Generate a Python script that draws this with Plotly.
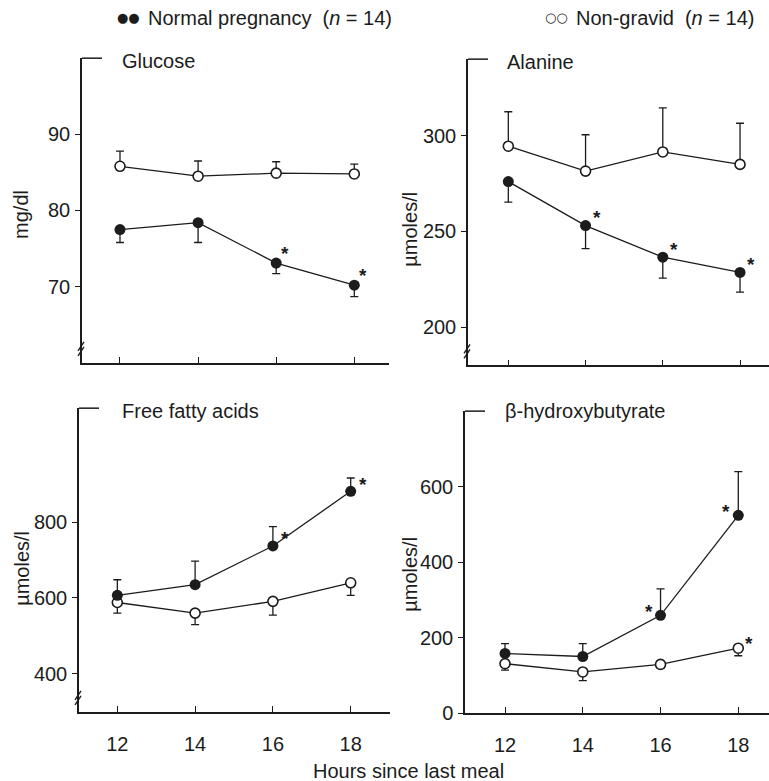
import plotly.graph_objects as go

W, H = 769, 781
FONT = "Liberation Sans, Arial, sans-serif"
INK = "#1c1c1c"

hours = [12, 14, 16, 18]
xtick_labels = ["12", "14", "16", "18"]

# Glucose (mg/dl)
glu_preg = [77.5, 78.4, 73.1, 70.2]
glu_preg_err = [1.7, 2.6, 1.4, 1.5]
glu_ng = [85.8, 84.5, 84.9, 84.8]
glu_ng_err = [2.0, 2.0, 1.5, 1.3]
glu_preg_sig = [False, False, True, True]
glu_ticks = [70, 80, 90]

# Alanine (umoles/l)
ala_preg = [276, 253, 236.5, 228.5]
ala_preg_err = [10.7, 12, 11, 10.3]
ala_ng = [294.5, 281.5, 291.5, 285]
ala_ng_err = [18, 19, 23, 21.5]
ala_preg_sig = [False, True, True, True]
ala_ticks = [200, 250, 300]

# Free fatty acids (umoles/l)
ffa_preg = [607, 635, 737, 881]
ffa_preg_err = [41, 62, 51, 35]
ffa_ng = [588, 560, 591, 640]
ffa_ng_err = [28, 30, 36, 33]
ffa_preg_sig = [False, False, True, True]
ffa_ticks = [400, 600, 800]

# beta-hydroxybutyrate (umoles/l)
bhb_preg = [158, 150, 259, 524]
bhb_preg_err = [26, 34, 70, 116]
bhb_ng = [131, 109, 129, 172]
bhb_ng_err = [17, 23, 10, 20]
bhb_preg_sig = [False, False, True, True]
bhb_ng_sig = [False, False, False, True]
bhb_ticks = [0, 200, 400, 600]

titles = ["Glucose", "Alanine", "Free fatty acids", "\u03b2-hydroxybutyrate"]
ytitles = ["mg/dl", "\u00b5moles/l", "\u00b5moles/l", "\u00b5moles/l"]

def px(x):
    return x / W

def py(y):
    return 1 - y / H

panels = [
    dict(preg=glu_preg, perr=glu_preg_err, pdir="down", ng=glu_ng, nerr=glu_ng_err, ndir="up",
         psig=glu_preg_sig, pshift=(9, 10), nsig=None, nshift=None, ticks=glu_ticks,
         yrange=[60, 100], xdom=[82, 389], ydom=[59, 368], xrange=[11.027, 18.889],
         brk=True, labels=False, title=titles[0], tpos=(120, 62), ytitle=ytitles[0], ytpos=(21, 218)),
    dict(preg=ala_preg, perr=ala_preg_err, pdir="down", ng=ala_ng, nerr=ala_ng_err, ndir="up",
         psig=ala_preg_sig, pshift=(11, 8), nsig=None, nshift=None, ticks=ala_ticks,
         yrange=[180, 340], xdom=[468, 769], ydom=[60, 370.5], xrange=[10.956, 18.75],
         brk=True, labels=False, title=titles[1], tpos=(505, 63), ytitle=ytitles[1], ytpos=(410, 233)),
    dict(preg=ffa_preg, perr=ffa_preg_err, pdir="up", ng=ffa_ng, nerr=ffa_ng_err, ndir="down",
         psig=ffa_preg_sig, pshift=(12, 7), nsig=None, nshift=None, ticks=ffa_ticks,
         yrange=[300, 1100], xdom=[79, 390], ydom=[414, 722], xrange=[11.015, 19.01],
         brk=True, labels=True, title=titles[2], tpos=(120, 417), ytitle=ytitles[2], ytpos=(22, 577)),
    dict(preg=bhb_preg, perr=bhb_preg_err, pdir="up", ng=bhb_ng, nerr=bhb_ng_err, ndir="down",
         psig=bhb_preg_sig, pshift=(-12, 4), nsig=bhb_ng_sig, nshift=(11, 5), ticks=bhb_ticks,
         yrange=[0, 800], xdom=[465, 769], ydom=[417, 723.3], xrange=[10.971, 18.79],
         brk=False, labels=True, title=titles[3], tpos=(503, 417), ytitle=ytitles[3], ytpos=(410, 583)),
]

fig = go.Figure()
annotations = []
shapes = []

def err_spec(err, direction):
    zeros = [0] * len(err)
    up = err if direction == "up" else zeros
    dn = err if direction == "down" else zeros
    return dict(type="data", symmetric=False, array=up, arrayminus=dn,
                color=INK, thickness=1.3, width=4)

for i, p in enumerate(panels, start=1):
    xa = "x" if i == 1 else f"x{i}"
    ya = "y" if i == 1 else f"y{i}"
    # non-gravid (open circles)
    fig.add_trace(go.Scatter(
        x=hours, y=p["ng"], mode="lines+markers", xaxis=xa, yaxis=ya, showlegend=False,
        line=dict(color=INK, width=1.3),
        marker=dict(symbol="circle", size=10, color="white", line=dict(color=INK, width=1.6)),
        error_y=err_spec(p["nerr"], p["ndir"]),
    ))
    # normal pregnancy (filled)
    fig.add_trace(go.Scatter(
        x=hours, y=p["preg"], mode="lines+markers", xaxis=xa, yaxis=ya, showlegend=False,
        line=dict(color=INK, width=1.3),
        marker=dict(symbol="circle", size=11, color=INK, line=dict(color=INK, width=0)),
        error_y=err_spec(p["perr"], p["pdir"]),
    ))
    # significance asterisks
    for series, sig, shift in ((p["preg"], p["psig"], p["pshift"]), (p["ng"], p["nsig"], p["nshift"])):
        if sig is None:
            continue
        for h, v, s in zip(hours, series, sig):
            if s:
                annotations.append(dict(x=h, y=v, xref=xa, yref=ya, text="<b>*</b>", showarrow=False,
                                        xshift=shift[0], yshift=shift[1],
                                        font=dict(family=FONT, size=19, color=INK)))
    axis_x = dict(domain=[px(p["xdom"][0]), px(p["xdom"][1])], range=p["xrange"],
                  tickvals=hours, ticktext=xtick_labels, showticklabels=p["labels"],
                  ticks="inside", ticklen=6, tickwidth=1.3, tickcolor=INK,
                  showline=True, linecolor=INK, linewidth=1.5, showgrid=False, zeroline=False,
                  anchor=ya, ticklabelstandoff=13,
                  tickfont=dict(family=FONT, size=20, color=INK))
    axis_y = dict(domain=[py(p["ydom"][1]), py(p["ydom"][0])], range=p["yrange"],
                  tickvals=p["ticks"], ticks="outside", ticklen=5, tickwidth=1.3, tickcolor=INK,
                  showline=True, linecolor=INK, linewidth=1.5, showgrid=False, zeroline=False,
                  anchor=xa, ticklabelstandoff=1,
                  tickfont=dict(family=FONT, size=20, color=INK))
    fig.update_layout(**{("xaxis" if i == 1 else f"xaxis{i}"): axis_x,
                         ("yaxis" if i == 1 else f"yaxis{i}"): axis_y})
    # top cap of the y axis
    shapes.append(dict(type="line", xref=f"{xa} domain", yref=f"{ya} domain",
                       xsizemode="pixel", xanchor=0, x0=0, x1=20, y0=1, y1=1,
                       line=dict(color=INK, width=1.5)))
    # axis break marks
    if p["brk"]:
        for off in (7, 12):
            shapes.append(dict(type="line", xref=f"{xa} domain", yref=f"{ya} domain",
                               xsizemode="pixel", ysizemode="pixel", xanchor=0, yanchor=0,
                               x0=-4, x1=2, y0=off, y1=off + 9,
                               line=dict(color=INK, width=1.4)))
    # panel title
    annotations.append(dict(x=px(p["tpos"][0]), y=py(p["tpos"][1]), xref="paper", yref="paper",
                            text=p["title"], showarrow=False, xanchor="left", yanchor="middle",
                            font=dict(family=FONT, size=20, color=INK)))
    annotations.append(dict(x=px(p["ytpos"][0]), y=py(p["ytpos"][1]), xref="paper", yref="paper",
                            text=p["ytitle"], showarrow=False, textangle=-90,
                            xanchor="center", yanchor="middle",
                            font=dict(family=FONT, size=20, color=INK)))

# shared x-axis title
annotations.append(dict(x=px(409), y=py(770), xref="paper", yref="paper",
                        text="Hours since last meal", showarrow=False,
                        xanchor="center", yanchor="middle", yshift=-12,
                        font=dict(family=FONT, size=20, color=INK)))

# legend (as text)
annotations.append(dict(x=px(115), y=py(18), xref="paper", yref="paper", text="\u25cf\u25cf",
                        showarrow=False, xanchor="left", yanchor="middle",
                        font=dict(family="DejaVu Sans", size=13, color=INK)))
annotations.append(dict(x=px(146), y=py(18), xref="paper", yref="paper",
                        text="Normal pregnancy  (<i>n</i> = 14)", showarrow=False,
                        xanchor="left", yanchor="middle",
                        font=dict(family=FONT, size=20, color=INK)))
annotations.append(dict(x=px(543), y=py(18), xref="paper", yref="paper", text="\u25cb\u25cb",
                        showarrow=False, xanchor="left", yanchor="middle",
                        font=dict(family="DejaVu Sans", size=13, color=INK)))
annotations.append(dict(x=px(574), y=py(18), xref="paper", yref="paper",
                        text="Non-gravid  (<i>n</i> = 14)", showarrow=False,
                        xanchor="left", yanchor="middle",
                        font=dict(family=FONT, size=20, color=INK)))

fig.update_layout(width=W, height=H, margin=dict(l=0, r=0, t=0, b=0),
                  paper_bgcolor="white", plot_bgcolor="white",
                  annotations=annotations, shapes=shapes, showlegend=False)

fig.write_html("out.html")
